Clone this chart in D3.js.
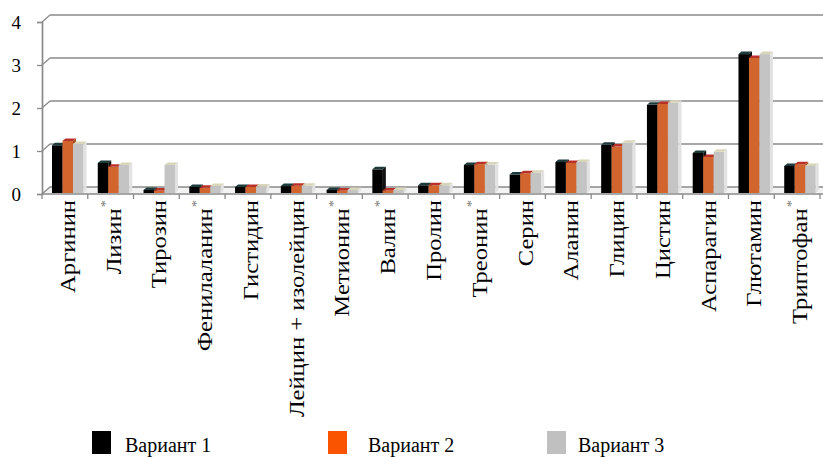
<!DOCTYPE html>
<html>
<head>
<meta charset="utf-8">
<script src="https://cdn.jsdelivr.net/npm/d3@7"></script>
<style>
  body { margin: 0; background: #fff; }
</style>
</head>
<body>
<div class="canvas"></div>
<script>
// data
const categories = ["Аргинин", "Лизин", "Тирозин", "Фенилаланин", "Гистидин", "Лейцин + изолейцин",
  "Метионин", "Валин", "Пролин", "Треонин", "Серин", "Аланин", "Глицин", "Цистин",
  "Аспарагин", "Глютамин", "Триптофан"];
const starred = ["Лизин", "Фенилаланин", "Метионин", "Валин", "Треонин", "Триптофан"];
const variant1 = [1.11, 0.70, 0.07, 0.14, 0.14, 0.16, 0.07, 0.55, 0.18, 0.65, 0.43, 0.72, 1.12, 2.05, 0.93, 3.23, 0.63];
const variant2 = [1.21, 0.61, 0.06, 0.12, 0.14, 0.17, 0.06, 0.06, 0.18, 0.67, 0.46, 0.70, 1.08, 2.07, 0.84, 3.14, 0.67];
const variant3 = [1.14, 0.65, 0.65, 0.16, 0.15, 0.17, 0.07, 0.07, 0.18, 0.66, 0.47, 0.72, 1.17, 2.10, 0.96, 3.23, 0.63];
const seriesNames = ["Вариант 1", "Вариант 2", "Вариант 3"];
const yTicks = [0, 1, 2, 3, 4];

const series = [variant1, variant2, variant3];
const front = ["#000000", "#d2652e", "#c4c4c4"];
const topFace = ["#1d3b3b", "#b8322a", "#d8d6b8"];
const sideFace = ["#111111", "#a84c20", "#e2e2e2"];
const legendColors = ["#000000", "#fa5400", "#c0c0c0"];

const width = 823, height = 457;
const x0 = 42, x1 = 820;
const depth = {dx: 8, dy: -7};
const serif = "Liberation Serif, DejaVu Serif, Noto Serif";

const svg = d3.select(".canvas")
  .append("svg")
    .attr("width", width)
    .attr("height", height);

const x = d3.scaleBand()
    .domain(categories)
    .range([x0, x1]);

const y = d3.scaleLinear()
    .domain([0, 4])
    .range([194, 22]);

const gridColor = "#8a8a8a";

// floor
svg.append("path")
    .attr("d", `M${x0},${y(0)} L${x0 + depth.dx},${y(0) + depth.dy} L${width},${y(0) + depth.dy} L${width},${y(0)} Z`)
    .attr("fill", "#f3f3f3")
    .attr("stroke", "none");

// back wall gridlines + left wall diagonals
yTicks.forEach(t => {
  svg.append("line")
      .attr("x1", x0 + depth.dx).attr("x2", width)
      .attr("y1", y(t) + depth.dy).attr("y2", y(t) + depth.dy)
      .attr("stroke", gridColor).attr("stroke-width", 1.7);
  svg.append("line")
      .attr("x1", x0).attr("x2", x0 + depth.dx)
      .attr("y1", y(t)).attr("y2", y(t) + depth.dy)
      .attr("stroke", gridColor).attr("stroke-width", 1.3);
});

// front floor edge
svg.append("line")
    .attr("x1", x0).attr("x2", width)
    .attr("y1", y(0)).attr("y2", y(0))
    .attr("stroke", gridColor).attr("stroke-width", 1.7);

// y axis
const yAxis = svg.append("g")
    .attr("transform", `translate(${x0},0)`)
    .call(d3.axisLeft(y).tickValues(yTicks).tickSize(5).tickPadding(16).tickFormat(d3.format("d")));
yAxis.attr("font-family", null).attr("font-size", null);
yAxis.select(".domain").attr("stroke", gridColor).attr("stroke-width", 1.7);
yAxis.selectAll(".tick line").attr("stroke", gridColor).attr("stroke-width", 1.3);
yAxis.selectAll(".tick text")
    .style("font-family", serif)
    .style("font-size", "19px")
    .attr("fill", "#000");

// category ticks
const bounds = categories.map(c => x(c)).concat([x1]);
svg.selectAll(".xtick")
  .data(bounds)
  .join("line")
    .attr("class", "xtick")
    .attr("x1", d => d).attr("x2", d => d)
    .attr("y1", y(0)).attr("y2", y(0) + 5)
    .attr("stroke", gridColor).attr("stroke-width", 1.3);

// bars with a small 3d look
const barW = 10.5, offX = 10, bdx = 3, bdy = -2.5;
const base = y(0) - 1;
series.forEach((vals, s) => {
  const g = svg.append("g");
  vals.forEach((v, i) => {
    const bx = x(categories[i]) + offX + s * barW;
    const by = base - (y(0) - y(v));
    g.append("rect")
        .attr("x", bx).attr("y", by)
        .attr("width", barW).attr("height", base - by)
        .attr("fill", front[s]);
    g.append("path")
        .attr("d", `M${bx},${by} L${bx + bdx},${by + bdy} L${bx + barW + bdx},${by + bdy} L${bx + barW},${by} Z`)
        .attr("fill", topFace[s]);
    g.append("path")
        .attr("d", `M${bx + barW},${by} L${bx + barW + bdx},${by + bdy} L${bx + barW + bdx},${base + bdy} L${bx + barW},${base} Z`)
        .attr("fill", sideFace[s]);
  });
});

// category labels, rotated (the source picture is stretched along the text)
const labels = svg.selectAll(".cat")
  .data(categories)
  .join("text")
    .attr("class", "cat")
    .attr("transform", d => `translate(${x(d) + x.bandwidth() / 2 + 10},200) rotate(-90) scale(1.12,1)`)
    .attr("text-anchor", "end")
    .style("font-family", serif)
    .style("font-size", "22px")
    .attr("fill", "#000");
labels.append("tspan").text(d => d);
labels.filter(d => starred.includes(d))
  .append("tspan")
    .attr("dy", -12)
    .attr("dx", 1)
    .style("font-size", "13px")
    .attr("fill", "#777")
    .text("*");

// legend
const legendX = [92, 328, 547];
const legendTextX = [125, 368, 578];
seriesNames.forEach((name, i) => {
  svg.append("rect")
      .attr("x", legendX[i]).attr("y", 431)
      .attr("width", 19).attr("height", 23)
      .attr("fill", legendColors[i]);
  svg.append("text")
      .attr("x", legendTextX[i]).attr("y", 452)
      .style("font-family", serif)
      .style("font-size", "20px")
      .attr("fill", "#000")
      .text(name);
});
</script>
</body>
</html>
